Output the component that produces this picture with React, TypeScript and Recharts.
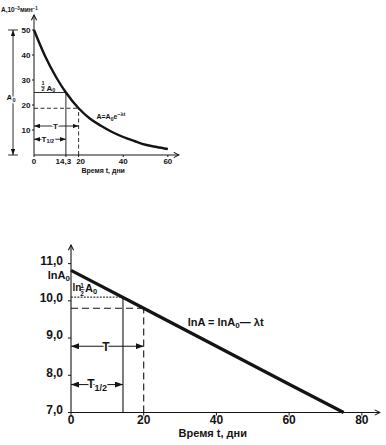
import React from 'react';
import { LineChart, Line, XAxis, YAxis, ReferenceLine, ReferenceDot } from 'recharts';

// ---- top chart: A = A0 e^{-λt}
const decayTimes = [0, 5, 10, 14.3, 20, 25, 30, 35, 40, 45, 50, 55, 60];
const decayActivity = [50, 39.5, 31, 25, 18.7, 14.6, 11.7, 9.2, 7.2, 5.6, 4.1, 3.2, 2.4];
const topXTicks = [0, 14.3, 20, 40, 60];
const topYTicks = [10, 20, 30, 40, 50];

// ---- bottom chart: lnA = lnA0 - λt
const lnTimes = [0, 20, 40, 60, 75];
const lnActivity = [10.82, 9.8, 8.78, 7.76, 7.0];
const bottomXTicks = [0, 20, 40, 60, 80];
const bottomYTicks = [7, 8, 9, 10, 11];

const halfLife = 14.3;
const meanLife = 20;
const topA0 = 50;
const topHalf = 25;
const topMean = 18.7;
const lnA0 = 10.82;
const lnHalf = 10.1;
const lnMean = 9.8;

const topData = decayTimes.map((t, i) => ({ t, a: decayActivity[i] }));
const bottomData = lnTimes.map((t, i) => ({ t, a: lnActivity[i] }));

const FONT = '"Liberation Sans", Arial, Helvetica, sans-serif';
const INK = '#141414';

const comma = (v: number) => String(v).replace('.', ',');
const comma1 = (v: number) => v.toFixed(1).replace('.', ',');

const shape = (render: (x: number, y: number) => React.ReactNode) => (p: any) => (
  <g>{render(p.cx, p.cy)}</g>
);

const T = (props: any) => (
  <text fontFamily={FONT} fontWeight="bold" fill={INK} {...props} />
);
const Halo = (props: any) => (
  <T stroke="#fff" strokeWidth={3} paintOrder="stroke" strokeLinejoin="round" {...props} />
);

const TopXTick = (props: any) => {
  const { x, y, payload } = props;
  const v = payload.value;
  const dx = v === halfLife ? -2.5 : v === meanLife ? 2 : 0;
  return (
    <T x={x + dx} y={y + 6} fontSize={8} textAnchor="middle">{comma(v)}</T>
  );
};

const thin = { stroke: INK, strokeWidth: 0.9 };

export default function App() {
  return (
    <div style={{ position: 'absolute', left: 0, top: 0, width: 386, height: 445, background: '#fff' }}>
      <svg width="0" height="0" style={{ position: 'absolute' }}>
        <defs>
          <marker id="axArrow" viewBox="0 0 8 8" refX="7" refY="4" markerWidth="7" markerHeight="7" markerUnits="userSpaceOnUse" orient="auto">
            <path d="M1,1 L7,4 L1,7" fill="none" stroke={INK} strokeWidth="1.2" />
          </marker>
          <marker id="dimArrow" viewBox="0 0 8 6" refX="8" refY="3" markerWidth="6" markerHeight="4.5" markerUnits="userSpaceOnUse" orient="auto-start-reverse">
            <path d="M0,0 L8,3 L0,6 z" fill={INK} />
          </marker>
          <marker id="dimArrowBig" viewBox="0 0 8 6" refX="8" refY="3" markerWidth="8" markerHeight="6" markerUnits="userSpaceOnUse" orient="auto-start-reverse">
            <path d="M0,0 L8,3 L0,6 z" fill={INK} />
          </marker>
        </defs>
      </svg>

      {/* ---------------- TOP CHART ---------------- */}
      <div style={{ position: 'absolute', left: 0, top: 0 }}>
        <LineChart width={190} height={185} data={topData} margin={{ top: 15, right: 11, bottom: 10, left: 10 }}>
          <XAxis
            type="number"
            dataKey="t"
            domain={[0, 65]}
            ticks={topXTicks}
            interval={0}
            axisLine={false}
            tickSize={2}
            tickMargin={1}
            tickLine={{ stroke: INK }}
            height={20}
            tick={<TopXTick />}
          />
          <YAxis
            type="number"
            domain={[0, 56]}
            ticks={topYTicks}
            interval={0}
            axisLine={false}
            tickSize={2}
            tickMargin={1.5}
            tickLine={{ stroke: INK }}
            width={24}
            tick={{ fontSize: 8, fontFamily: FONT, fontWeight: 'bold', fill: INK }}
          />
          {/* axes with arrows */}
          <ReferenceLine segment={[{ x: 0, y: 0 }, { x: 65, y: 0 }]} stroke={INK} strokeWidth={1} markerEnd="url(#axArrow)" ifOverflow="visible" />
          <ReferenceLine segment={[{ x: 0, y: 0 }, { x: 0, y: 56 }]} stroke={INK} strokeWidth={1} markerEnd="url(#axArrow)" ifOverflow="visible" />

          {/* half-life guides (solid) */}
          <ReferenceLine segment={[{ x: 0, y: topHalf }, { x: halfLife, y: topHalf }]} {...thin} />
          <ReferenceLine segment={[{ x: halfLife, y: 0 }, { x: halfLife, y: topHalf }]} {...thin} />
          {/* mean-life guides (dashed) */}
          <ReferenceLine segment={[{ x: 0, y: topMean }, { x: meanLife, y: topMean }]} {...thin} strokeDasharray="4 2.5" />
          <ReferenceLine segment={[{ x: meanLife, y: 0 }, { x: meanLife, y: topMean }]} {...thin} strokeDasharray="4 2.5" />

          {/* dimension arrows */}
          <ReferenceLine segment={[{ x: 0, y: 11.6 }, { x: meanLife, y: 11.6 }]} {...thin} markerStart="url(#dimArrow)" markerEnd="url(#dimArrow)" />
          <ReferenceLine segment={[{ x: 0, y: 6.3 }, { x: halfLife, y: 6.3 }]} {...thin} markerStart="url(#dimArrow)" markerEnd="url(#dimArrow)" />
          <ReferenceLine segment={[{ x: -9.4, y: 0 }, { x: -9.4, y: topA0 }]} {...thin} markerStart="url(#dimArrow)" markerEnd="url(#dimArrow)" ifOverflow="visible" />
          <ReferenceLine segment={[{ x: -11.6, y: topA0 }, { x: -7.2, y: topA0 }]} {...thin} ifOverflow="visible" />
          <ReferenceLine segment={[{ x: -11.6, y: 0 }, { x: -7.2, y: 0 }]} {...thin} ifOverflow="visible" />

          <Line type="monotone" dataKey="a" stroke={INK} strokeWidth={2.4} dot={false} isAnimationActive={false} />

          {/* texts */}
          <ReferenceDot x={0} y={56} r={0} ifOverflow="visible" shape={shape((x, y) => (
            <T x={x - 33} y={y - 3} fontSize={6.5}>
              A,10<tspan fontSize={4.5} dy={-2.5}>−3</tspan><tspan dy={2.5}>мин</tspan><tspan fontSize={4.5} dy={-2.5}>−1</tspan>
            </T>
          ))} />
          <ReferenceDot x={-9.4} y={22} r={0} ifOverflow="visible" shape={shape((x, y) => (
            <Halo x={x - 2} y={y} fontSize={8} textAnchor="middle">
              A<tspan fontSize={5.5} dy={1.5}>0</tspan>
            </Halo>
          ))} />
          <ReferenceDot x={0} y={topHalf} r={0} ifOverflow="visible" shape={shape((x, y) => (
            <g>
              <T x={x + 9} y={y - 7.5} fontSize={5.5} textAnchor="middle">1</T>
              <line x1={x + 7} x2={x + 11} y1={y - 5.8} y2={y - 5.8} stroke={INK} strokeWidth={0.6} />
              <T x={x + 9} y={y - 1.2} fontSize={5.5} textAnchor="middle">2</T>
              <T x={x + 12.5} y={y - 2} fontSize={8}>A<tspan fontSize={5.5} dy={1.5}>0</tspan></T>
            </g>
          ))} />
          <ReferenceDot x={9.6} y={11.6} r={0} ifOverflow="visible" shape={shape((x, y) => (
            <Halo x={x} y={y + 3} fontSize={8} textAnchor="middle">T</Halo>
          ))} />
          <ReferenceDot x={6.2} y={6.3} r={0} ifOverflow="visible" shape={shape((x, y) => (
            <Halo x={x} y={y + 2.5} fontSize={8} textAnchor="middle">T<tspan fontSize={5.5} dy={1.5}>1/2</tspan></Halo>
          ))} />
          <ReferenceDot x={28} y={14.4} r={0} ifOverflow="visible" shape={shape((x, y) => (
            <T x={x} y={y} fontSize={7}>
              A=A<tspan fontSize={5} dy={1.5}>0</tspan><tspan dy={-1.5}>e</tspan><tspan fontSize={5.5} dy={-3}>−λt</tspan>
            </T>
          ))} />
          <ReferenceDot x={31} y={0} r={0} ifOverflow="visible" shape={shape((x, y) => (
            <T x={x} y={y + 18} fontSize={7} textAnchor="middle">Время t, дни</T>
          ))} />
        </LineChart>
      </div>

      {/* ---------------- BOTTOM CHART ---------------- */}
      <div style={{ position: 'absolute', left: 0, top: 230 }}>
        <LineChart width={386} height={215} data={bottomData} margin={{ top: 15, right: 6, bottom: 10, left: 10 }}>
          <XAxis
            type="number"
            dataKey="t"
            domain={[0, 85]}
            ticks={bottomXTicks}
            interval={0}
            axisLine={false}
            tickSize={3}
            tickMargin={0}
            tickLine={{ stroke: INK }}
            height={22.5}
            tick={{ fontSize: 12, fontFamily: FONT, fontWeight: 'bold', fill: INK }}
          />
          <YAxis
            type="number"
            domain={[7, 11.5]}
            ticks={bottomYTicks}
            interval={0}
            tickFormatter={comma1}
            axisLine={false}
            tickSize={3}
            tickMargin={5}
            tickLine={{ stroke: INK }}
            width={61}
            tick={{ fontSize: 12, fontFamily: FONT, fontWeight: 'bold', fill: INK, dy: -3 }}
          />
          <ReferenceLine segment={[{ x: 0, y: 7 }, { x: 85, y: 7 }]} stroke={INK} strokeWidth={1.1} markerEnd="url(#axArrow)" ifOverflow="visible" />
          <ReferenceLine segment={[{ x: 0, y: 7 }, { x: 0, y: 11.5 }]} stroke={INK} strokeWidth={1.1} markerEnd="url(#axArrow)" ifOverflow="visible" />

          <ReferenceLine segment={[{ x: 0, y: lnHalf }, { x: halfLife, y: lnHalf }]} stroke={INK} strokeWidth={1} strokeDasharray="2 1.2" />
          <ReferenceLine segment={[{ x: halfLife, y: 7 }, { x: halfLife, y: lnHalf }]} stroke={INK} strokeWidth={1.1} />
          <ReferenceLine segment={[{ x: 0, y: lnMean }, { x: meanLife, y: lnMean }]} stroke={INK} strokeWidth={1.1} strokeDasharray="7 4" />
          <ReferenceLine segment={[{ x: meanLife, y: 7 }, { x: meanLife, y: lnMean }]} stroke={INK} strokeWidth={1.1} strokeDasharray="7 4" />

          <ReferenceLine segment={[{ x: 0, y: 8.78 }, { x: meanLife, y: 8.78 }]} stroke={INK} strokeWidth={1} markerStart="url(#dimArrowBig)" markerEnd="url(#dimArrowBig)" />
          <ReferenceLine segment={[{ x: 0, y: 7.75 }, { x: halfLife, y: 7.75 }]} stroke={INK} strokeWidth={1} markerStart="url(#dimArrowBig)" markerEnd="url(#dimArrowBig)" />

          <Line type="linear" dataKey="a" stroke={INK} strokeWidth={3.2} dot={false} isAnimationActive={false} />

          <ReferenceDot x={0} y={lnA0} r={0} ifOverflow="visible" shape={shape((x, y) => (
            <T x={x - 1} y={y + 8.5} fontSize={11} textAnchor="end">
              lnA<tspan fontSize={8} dy={2}>0</tspan>
            </T>
          ))} />
          <ReferenceDot x={0} y={lnHalf} r={0} ifOverflow="visible" shape={shape((x, y) => (
            <g>
              <T x={x + 1.5} y={y - 6} fontSize={10}>ln</T>
              <T x={x + 11} y={y - 9.5} fontSize={6.5} textAnchor="middle">1</T>
              <line x1={x + 8.5} x2={x + 13.5} y1={y - 7.5} y2={y - 7.5} stroke={INK} strokeWidth={0.8} />
              <T x={x + 11} y={y - 1} fontSize={6.5} textAnchor="middle">2</T>
              <T x={x + 14} y={y - 5} fontSize={11}>A<tspan fontSize={7.5} dy={2}>0</tspan></T>
            </g>
          ))} />
          <ReferenceDot x={9.6} y={8.78} r={0} ifOverflow="visible" shape={shape((x, y) => (
            <Halo x={x} y={y + 4.5} fontSize={12} textAnchor="middle">T</Halo>
          ))} />
          <ReferenceDot x={7.2} y={7.75} r={0} ifOverflow="visible" shape={shape((x, y) => (
            <Halo x={x} y={y + 3} fontSize={12} textAnchor="middle">T<tspan fontSize={9} dy={3}>1/2</tspan></Halo>
          ))} />
          <ReferenceDot x={32.1} y={9.33} r={0} ifOverflow="visible" shape={shape((x, y) => (
            <T x={x} y={y} fontSize={11}>
              lnA = lnA<tspan fontSize={8} dy={2}>0</tspan><tspan dy={-2}>— λt</tspan>
            </T>
          ))} />
          <ReferenceDot x={39} y={7} r={0} ifOverflow="visible" shape={shape((x, y) => (
            <T x={x} y={y + 24} fontSize={11} textAnchor="middle">Время t, дни</T>
          ))} />
        </LineChart>
      </div>
    </div>
  );
}
